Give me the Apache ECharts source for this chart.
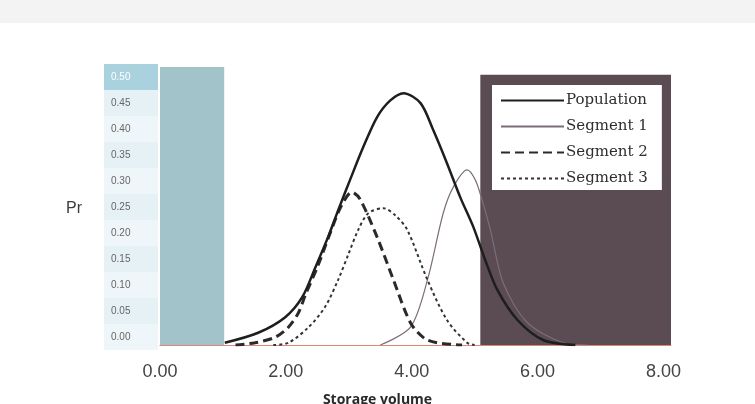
<!DOCTYPE html>
<html>
<head>
<meta charset="utf-8">
<script src="https://cdn.jsdelivr.net/npm/echarts@6/dist/echarts.min.js"></script>
<style>
html,body{margin:0;padding:0;background:#fff;}
#chart{width:755px;height:404px;}
</style>
</head>
<body>
<div id="chart"></div>
<script>
// ---- data ----
const yTickLabels = ['0.00','0.05','0.10','0.15','0.20','0.25','0.30','0.35','0.40','0.45','0.50'];
const xTickValues = [0, 2, 4, 6, 8];

const populationX = [1.03, 1.56, 1.99, 2.26, 2.47, 2.67, 2.85, 3.02, 3.23, 3.45, 3.66, 3.87, 4.14, 4.34, 4.56, 4.77, 4.98, 5.17, 5.36, 5.68, 6.09, 6.6];
const populationY = [0.004, 0.022, 0.05, 0.086, 0.14, 0.194, 0.248, 0.297, 0.356, 0.41, 0.44, 0.453, 0.435, 0.387, 0.327, 0.266, 0.212, 0.152, 0.099, 0.045, 0.009, 0.0];

const segment1X = [3.5, 3.98, 4.25, 4.5, 4.66, 4.88, 5.01, 5.12, 5.25, 5.46, 5.84, 6.41, 6.8];
const segment1Y = [0.0, 0.032, 0.117, 0.237, 0.284, 0.315, 0.297, 0.26, 0.207, 0.11, 0.04, 0.004, 0.0];

const segment2X = [1.2, 1.51, 1.83, 2.04, 2.2, 2.31, 2.5, 2.7, 2.88, 3.05, 3.18, 3.45, 3.71, 3.98, 4.2, 4.4, 4.8];
const segment2Y = [0.0, 0.004, 0.014, 0.032, 0.058, 0.09, 0.14, 0.2, 0.25, 0.275, 0.262, 0.194, 0.117, 0.04, 0.012, 0.004, 0.0];

const segment3X = [1.8, 2.04, 2.36, 2.62, 2.83, 3.0, 3.15, 3.31, 3.55, 3.75, 3.93, 4.25, 4.56, 4.88, 5.0];
const segment3Y = [0.0, 0.004, 0.032, 0.068, 0.117, 0.165, 0.207, 0.237, 0.246, 0.232, 0.207, 0.117, 0.045, 0.004, 0.0];

const tealRegionX = [0, 1.02];
const tealRegionY = [0, 0.5];
const darkRegionX = [5.09, 8.12];
const darkRegionY = [0, 0.486];

const seriesNames = ['Population', 'Segment 1', 'Segment 2', 'Segment 3'];
const topCell = '0.50';

function pairs(xs, ys){ return xs.map((x,i)=>[x, ys[i]]); }

const chart = echarts.init(document.getElementById('chart'));
const option = {
  animation: false,
  backgroundColor: '#ffffff',
  graphic: [
    { type: 'rect', left: 0, top: 0, shape: { width: 755, height: 23 }, style: { fill: '#f3f3f3' }, z: -1 }
  ],
  title: [
    { text: 'Pr', left: 61, top: 196, textStyle: { fontFamily: 'Liberation Sans, Arial', fontSize: 16, fontWeight: 'normal', color: '#3c3c3c' } },
    { text: 'Storage volume', left: 'center', top: 393, padding: 0, textStyle: { fontFamily: 'Open Sans, Liberation Sans', fontSize: 14, fontWeight: 'bold', color: '#2a2a2a' } }
  ],
  legend: {
    data: seriesNames,
    orient: 'vertical',
    left: 492, top: 85,
    backgroundColor: '#ffffff',
    padding: [8, 14, 4, 8],
    itemWidth: 63, itemHeight: 14, itemGap: 11,
    itemStyle: { opacity: 0 },
    textStyle: { fontFamily: 'DejaVu Serif', fontSize: 15, color: '#2e2e2e', padding: [0,0,0,-3] },
    z: 10
  },
  grid: [
    { left: 160, top: 67, width: 511, height: 278 },
    { left: 104, top: 64, width: 54, height: 286 }
  ],
  xAxis: [
    { gridIndex: 0, type: 'value', min: 0, max: 8.12, interval: 2,
      axisLine: { show: true, lineStyle: { color: '#d98a72', width: 1.2 } },
      axisTick: { show: false }, splitLine: { show: false },
      axisLabel: { margin: 18, fontSize: 18, color: '#444', fontFamily: 'Liberation Sans, Arial',
        formatter: v => xTickValues.indexOf(v) >= 0 ? v.toFixed(2) : '' } },
    { gridIndex: 1, type: 'value', min: 0, max: 1, show: false }
  ],
  yAxis: [
    { gridIndex: 0, type: 'value', min: 0, max: 0.5, show: false },
    { gridIndex: 1, type: 'category', data: yTickLabels, z: 10,
      axisLine: { show: false }, axisTick: { show: false },
      axisLabel: { inside: true, margin: 7, fontSize: 10, fontFamily: 'Liberation Sans, Arial',
        color: (v) => v === topCell ? '#ffffff' : '#666666' },
      splitArea: { show: false }, splitLine: { show: false } }
  ],
  series: [
    { name: 'cells', type: 'bar', xAxisIndex: 1, yAxisIndex: 1, barWidth: '100%', barCategoryGap: 0, silent: true,
      data: yTickLabels.map(() => 1),
      itemStyle: { color: (p) => yTickLabels[p.dataIndex] === topCell ? '#a9d2de' : (p.dataIndex % 2 ? '#e6f1f5' : '#eff6f9') },
      z: 1 },
    { name: 'regions', type: 'line', xAxisIndex: 0, yAxisIndex: 0, data: [], z: 1, silent: true,
      markArea: { silent: true, data: [
        [ { xAxis: tealRegionX[0], yAxis: tealRegionY[0], itemStyle: { color: '#a3c3cb' } }, { xAxis: tealRegionX[1], yAxis: tealRegionY[1] } ],
        [ { xAxis: darkRegionX[0], yAxis: darkRegionY[0], itemStyle: { color: '#5b4b52' } }, { xAxis: darkRegionX[1], yAxis: darkRegionY[1] } ]
      ] } },
    { name: seriesNames[0], type: 'line', data: pairs(populationX, populationY), smooth: 0.3, symbol: 'none', z: 5,
      lineStyle: { color: '#1e1e1e', width: 2.5 }, itemStyle: { color: '#1e1e1e' } },
    { name: seriesNames[1], type: 'line', data: pairs(segment1X, segment1Y), smooth: 0.3, symbol: 'none', z: 4,
      lineStyle: { color: '#7d6d7b', width: 1.2 }, itemStyle: { color: '#7d6d7b' } },
    { name: seriesNames[2], type: 'line', data: pairs(segment2X, segment2Y), smooth: 0.3, symbol: 'none', z: 4,
      lineStyle: { color: '#2a2a2a', width: 3, type: [9, 5] }, itemStyle: { color: '#2a2a2a' } },
    { name: seriesNames[3], type: 'line', data: pairs(segment3X, segment3Y), smooth: 0.3, symbol: 'none', z: 4,
      lineStyle: { color: '#333333', width: 2, type: [3, 3] }, itemStyle: { color: '#333333' } }
  ]
};
chart.setOption(option);
</script>
</body>
</html>
